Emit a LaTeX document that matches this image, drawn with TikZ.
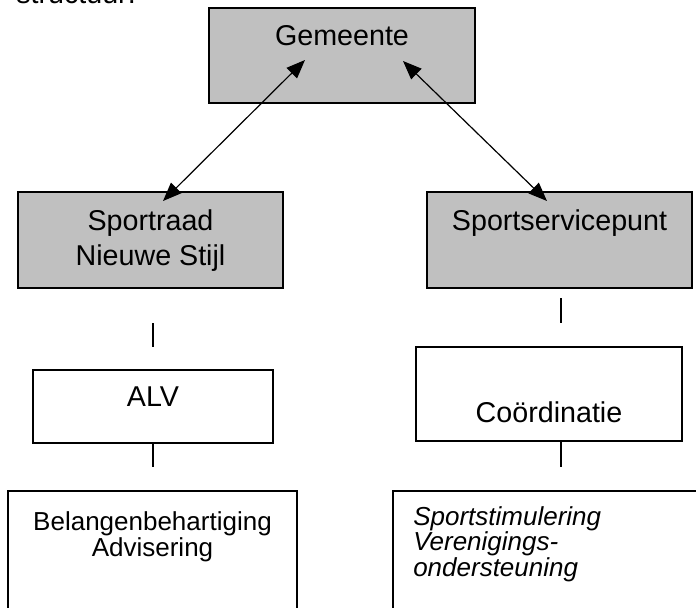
\documentclass[tikz,border=0pt]{standalone}
\usepackage{fontspec}
\setmainfont{Liberation Sans}
\usetikzlibrary{arrows.meta}
\definecolor{vakgrijs}{RGB}{192,192,192}
\begin{document}
\begin{tikzpicture}[x=0.75pt, y=-0.75pt]
   \tikzstyle{grijs} = [rectangle, draw, fill=vakgrijs, line width=1.1pt,
                        inner sep=0pt];
   \tikzstyle{wit} = [rectangle, draw, fill=white, line width=1.1pt,
                      inner sep=0pt];
   \tikzstyle{tekst} = [inner sep=0pt, anchor=base,
                        font=\fontsize{21.5}{26.25}\selectfont];
   \tikzstyle{klein} = [inner sep=0pt, anchor=base,
                        font=\fontsize{19.5}{18}\selectfont];
   \tikzstyle{pijl} = [black, line width=0.9pt,
                       {Triangle[length=14pt,width=11pt]}-{Triangle[length=14pt,width=11pt]}];
   \tikzstyle{streep} = [black, line width=1pt, -];

    \useasboundingbox (0,0) rectangle (696,607);

    \node[tekst, anchor=base east] (kop) at (136,3){structuur:};

    %% vakken
    \node[grijs, minimum width=199.5pt, minimum height=71.25pt] (gem) at (342,55.5){};
    \node[grijs, minimum width=198.75pt, minimum height=72pt] (spr) at (150.5,240){};
    \node[grijs, minimum width=198.75pt, minimum height=72pt] (ssp) at (559.5,240){};
    \node[wit, minimum width=180pt, minimum height=54.75pt] (alv) at (153,406.5){};
    \node[wit, minimum width=199.5pt, minimum height=70.5pt] (coo) at (549,394){};
    \node[wit, minimum width=216.75pt, minimum height=103.5pt] (bel) at (152.5,560){};
    \node[wit, minimum width=247.5pt, minimum height=103.5pt] (sti) at (558,560){};

    %% teksten (bij meerdere regels: basislijn van de laatste regel)
    \node[tekst] (tgem) at (342,45){Gemeente};
    \node[tekst, align=center] (tspr) at (150.5,265){Sportraad\\Nieuwe Stijl};
    \node[tekst] (tssp) at (559.5,230){Sportservicepunt};
    \node[tekst] (talv) at (153,406){ALV};
    \node[tekst] (tcoo) at (549,422){Coördinatie};
    \node[klein, align=center] (tbel) at (152.5,556){Belangenbehartiging\\Advisering};
    \node[klein, anchor=base west, align=left,
          font=\fontsize{19.5}{19}\selectfont\itshape] (tsti) at (413,576)
          {Sportstimulering\\Verenigings-\\ondersteuning};

    %% pijlen
    \coordinate (gemL) at (305,60);
    \coordinate (gemR) at (403,61);
    \coordinate (sprT) at (163,201);
    \coordinate (sspT) at (547,201);

    \path[pijl] (gemL) edge (sprT);
    \path[pijl] (gemR) edge (sspT);

    %% losse streepjes
    \coordinate (t1a) at (153,323);
    \coordinate (t1b) at (153,347);
    \coordinate (t2b) at (153,467);
    \coordinate (t3a) at (561,298);
    \coordinate (t3b) at (561,323);
    \coordinate (t4a) at (561,441);
    \coordinate (t4b) at (561,467);

    \path[streep] (t1a) edge (t1b);
    \path[streep] (alv.south) edge (t2b);
    \path[streep] (t3a) edge (t3b);
    \path[streep] (t4a) edge (t4b);

  \end{tikzpicture}
\end{document}
